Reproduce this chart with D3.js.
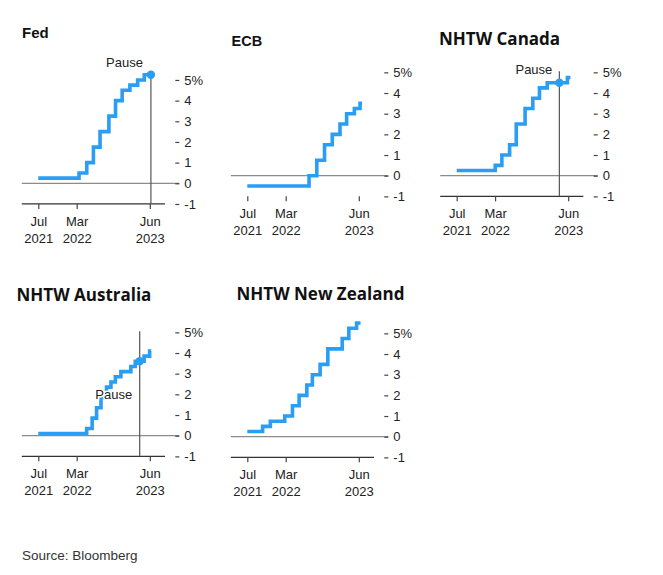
<!DOCTYPE html>
<html>
<head>
<meta charset="utf-8">
<script src="https://cdn.jsdelivr.net/npm/d3@7"></script>
<style>
  html, body { margin: 0; padding: 0; background: #fff; }
  svg { display: block; }
</style>
</head>
<body>
<svg id="chart" width="663" height="575"></svg>
<script>
// ---------------- DATA ----------------
const yTickValues = [-1, 0, 1, 2, 3, 4, 5];
const xTickDates = ["2021-07-01", "2022-03-01", "2023-06-07"];
const xTickMonths = ["Jul", "Mar", "Jun"];
const xTickYears = ["2021", "2022", "2023"];

const fedDates = ["2021-07-01","2022-03-16","2022-05-04","2022-06-15","2022-07-27","2022-09-21","2022-11-02","2022-12-14","2023-02-01","2023-03-22","2023-05-03","2023-06-14"];
const fedRates = [0.25, 0.5, 1.0, 1.75, 2.5, 3.25, 4.0, 4.5, 4.75, 5.0, 5.25, 5.25];

const ecbDates = ["2021-07-01","2022-07-27","2022-09-14","2022-11-02","2022-12-21","2023-02-08","2023-03-22","2023-05-10","2023-06-15","2023-06-28"];
const ecbRates = [-0.5, 0, 0.75, 1.5, 2.0, 2.5, 3.0, 3.25, 3.5, 3.5];

const canDates = ["2021-07-01","2022-03-02","2022-04-13","2022-06-01","2022-07-13","2022-09-07","2022-10-26","2022-12-07","2023-01-25","2023-06-02","2023-06-21"];
const canRates = [0.25, 0.5, 1.0, 1.5, 2.5, 3.25, 3.75, 4.25, 4.5, 4.75, 4.75];

const ausDates = ["2021-07-01","2022-05-03","2022-06-07","2022-07-05","2022-08-02","2022-09-06","2022-10-04","2022-11-01","2022-12-06","2023-02-07","2023-03-07","2023-05-02","2023-06-06","2023-06-16"];
const ausRates = [0.1, 0.35, 0.85, 1.35, 1.85, 2.35, 2.6, 2.85, 3.1, 3.35, 3.6, 3.85, 4.1, 4.1];

const nzDates = ["2021-07-01","2021-10-06","2021-11-24","2022-02-23","2022-04-13","2022-05-25","2022-07-13","2022-08-17","2022-10-05","2022-11-23","2023-02-22","2023-04-05","2023-05-24","2023-06-18"];
const nzRates = [0.25, 0.5, 0.75, 1.0, 1.5, 2.0, 2.5, 3.0, 3.5, 4.25, 4.75, 5.25, 5.5, 5.5];

const titles = ["Fed", "ECB", "NHTW Canada", "NHTW Australia", "NHTW New Zealand"];
const pauseLabel = "Pause";
const pauseDates = ["2023-06-14", null, "2023-04-12", "2023-04-04", null];
const pauseRates = [5.25, null, 4.5, 3.6, null];
const sourceText = "Source: Bloomberg";

// ---------------- LAYOUT ----------------
const panels = [
  { dates: fedDates, rates: fedRates, julX: 38.3, yZero: 183.3, bottomLine: true,
    title: { x: 22, y: 38, font: "'Liberation Sans', Arial, sans-serif", size: 15 },
    pause: { dx: -8, dy: -8 } },
  { dates: ecbDates, rates: ecbRates, julX: 247.3, yZero: 175.7, bottomLine: false,
    title: { x: 231.5, y: 46, font: "'Liberation Sans', Arial, sans-serif", size: 14.5 } },
  { dates: canDates, rates: canRates, julX: 456.7, yZero: 175.7, bottomLine: true,
    title: { x: 439, y: 44.5, font: "'Open Sans', sans-serif", size: 17 },
    pause: { dx: -7, dy: -8.5 } },
  { dates: ausDates, rates: ausRates, julX: 38.3, yZero: 435.7, bottomLine: true,
    title: { x: 16.5, y: 301, font: "'Open Sans', sans-serif", size: 17 },
    pause: { dx: -7.5, dy: 37.5 } },
  { dates: nzDates, rates: nzRates, julX: 247.3, yZero: 436.7, bottomLine: true,
    title: { x: 236.5, y: 300, font: "'Open Sans', sans-serif", size: 17 } }
];

const BLUE = "#2a9df4";
const unit = 20.67;
const parse = d3.timeParse("%Y-%m-%d");
const svg = d3.select("#chart");
const labelFont = "'Liberation Sans', Arial, sans-serif";

panels.forEach((p, i) => {
  const g = svg.append("g");
  const x = d3.scaleTime()
    .domain([parse("2021-07-01"), parse("2023-06-07")])
    .range([p.julX, p.julX + 111.5]);
  const y = d3.scaleLinear().domain([-1, 5]).range([p.yZero + unit, p.yZero - 5 * unit]);

  const left = p.julX - 16.5;
  const tickX = p.julX + 137;

  // title
  g.append("text")
    .attr("x", p.title.x).attr("y", p.title.y)
    .attr("font-family", p.title.font)
    .attr("font-weight", 700)
    .attr("font-size", p.title.size)
    .attr("fill", "#111")
    .text(titles[i]);

  // zero line
  g.append("line")
    .attr("x1", left).attr("x2", tickX + 4)
    .attr("y1", y(0)).attr("y2", y(0))
    .attr("stroke", "#8c8c8c").attr("stroke-width", 1.2);

  // bottom line
  if (p.bottomLine) {
    g.append("line")
      .attr("x1", left).attr("x2", p.julX + 126.7)
      .attr("y1", y(-1)).attr("y2", y(-1))
      .attr("stroke", "#333").attr("stroke-width", 1.2);
  }

  // y axis (right)
  const yAxis = d3.axisRight(y)
    .tickValues(yTickValues)
    .tickSize(4)
    .tickPadding(5)
    .tickFormat(d => d === 5 ? "5%" : String(d));
  const ya = g.append("g").attr("transform", `translate(${tickX},0)`).call(yAxis);
  ya.select(".domain").remove();
  ya.selectAll(".tick line").attr("stroke", "#444").attr("stroke-width", 1.2);
  ya.selectAll(".tick text")
    .attr("font-family", labelFont).attr("font-size", 13).attr("fill", "#222");

  // x axis
  const xAxis = d3.axisBottom(x)
    .tickValues(xTickDates.map(parse))
    .tickSize(5)
    .tickFormat(() => "");
  const xa = g.append("g").attr("transform", `translate(0,${y(-1)})`).call(xAxis);
  xa.select(".domain").remove();
  xa.selectAll(".tick line").attr("stroke", "#444").attr("stroke-width", 1.2);
  xa.selectAll(".tick").each(function(d, k) {
    const t = d3.select(this).select("text")
      .attr("y", null).attr("dy", null)
      .attr("font-family", labelFont).attr("font-size", 13).attr("fill", "#222")
      .attr("text-anchor", "middle");
    t.text(null);
    t.append("tspan").attr("x", 0).attr("y", 22).text(xTickMonths[k]);
    t.append("tspan").attr("x", 0).attr("y", 39).text(xTickYears[k]);
  });

  // pause vertical line
  const pd = pauseDates[i];
  let px, py;
  if (pd) {
    px = x(parse(pd));
    py = y(pauseRates[i]);
    g.append("line")
      .attr("x1", px).attr("x2", px)
      .attr("y1", Math.min(y(5.05), py)).attr("y2", y(-1))
      .attr("stroke", "#555").attr("stroke-width", 1.2);
  }

  // step line
  const pts = p.dates.map((d, k) => [parse(d), p.rates[k]]);
  const line = d3.line().x(d => x(d[0])).y(d => y(d[1])).curve(d3.curveStepAfter);
  g.append("path")
    .datum(pts)
    .attr("d", line)
    .attr("fill", "none")
    .attr("stroke", BLUE)
    .attr("stroke-width", 3.6)
    .attr("stroke-linejoin", "miter");

  if (pd) {
    g.append("circle")
      .attr("cx", px).attr("cy", py).attr("r", 4.2)
      .attr("fill", BLUE);
    g.append("text")
      .attr("x", px + p.pause.dx).attr("y", py + p.pause.dy)
      .attr("text-anchor", "end")
      .attr("font-family", labelFont).attr("font-size", 13)
      .attr("fill", "#222")
      .attr("stroke", "#fff").attr("stroke-width", 3)
      .attr("paint-order", "stroke")
      .text(pauseLabel);
  }
});

svg.append("text")
  .attr("x", 22).attr("y", 560)
  .attr("font-family", labelFont).attr("font-size", 13.5)
  .attr("fill", "#333")
  .text(sourceText);
</script>
</body>
</html>
